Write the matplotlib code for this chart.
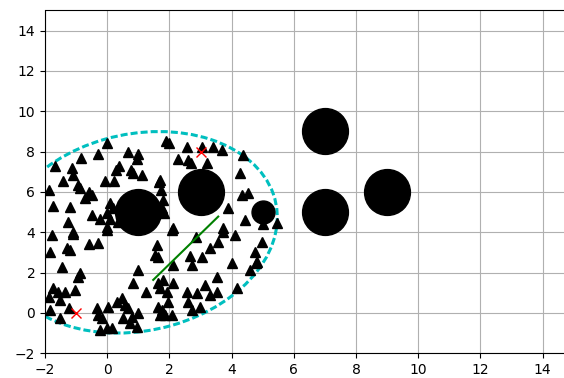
import matplotlib
matplotlib.use("Agg")
import matplotlib.pyplot as plt
from matplotlib.patches import Ellipse

# Sampled points (drawn as black triangles)
sample_x = [
    0.0, -0.3, -0.84, 0.66, 0.98, 0.95, -1.68, -1.12, -1.09, 0.37, 0.28, 0.76,
    0.82, 1.11, -1.41, -0.95, -0.06, 0.22, -0.87, 1.70, -1.86, -0.58, -0.71,
    -0.50, -1.73, -1.20, -0.50, -0.23, -1.25, 0.09, -0.02, -1.11,
    1.90, 2.00, 2.56, 2.29, 2.61, 2.68, 3.20, 3.41, 3.68, 4.38, 4.27, 4.32,
    4.54, 3.89, 4.43, 5.02, 5.45, 2.13, 3.73, 3.06,
    -1.78, -1.09, -0.02, -1.84, -1.30, -1.20, -0.58, -0.29, 1.59, 1.54, 1.64,
    -1.46, -0.87, -0.95, 1.00, 0.84, 1.25, 1.64, 1.70, -1.73, -1.57, -1.36,
    -1.04, -1.86, -1.52, -1.22, -1.84, -1.52, -0.34, -0.29, 0.04, 0.31, 0.47,
    0.57, 0.68, 0.52, 0.79, 1.00, -0.18, -0.23, -0.02, 0.14, 0.73, 0.95,
    1.64, 1.70,
    2.07, 2.86, 3.57, 3.73, 4.11, 3.31, 3.04, 2.66, 2.72, 2.11, 4.00, 4.97,
    4.75, 4.81, 4.59, 3.52, 1.80, 2.13, 3.14, 2.56, 2.88, 3.31, 3.52, 4.16,
    1.91, 1.96, 2.61, 2.98, 2.72, 1.75, 2.07, 1.86,
    0.10, 0.00, 1.78, 1.84, 1.67, 1.73, 0.20, 0.35, 1.75, 4.79,
]
sample_y = [
    8.45, 7.90, 7.68, 7.97, 7.88, 7.63, 7.30, 7.21, 6.85, 7.31, 7.10, 7.10,
    6.93, 6.85, 6.52, 6.35, 6.52, 6.52, 6.19, 6.60, 6.10, 6.02, 5.69,
    5.86, 5.31, 5.25, 4.86, 4.65, 4.53, 4.65, 4.28, 4.03,
    8.55, 8.45, 8.25, 7.63, 7.59, 7.43, 7.46, 8.25, 8.09, 7.84, 6.93, 5.86,
    5.97, 5.20, 4.62, 4.42, 4.45, 4.20, 4.20, 8.25,
    3.87, 3.92, 4.12, 3.04, 3.21, 3.13, 3.42, 3.46, 3.37, 2.88, 2.79,
    2.30, 1.97, 1.80, 2.13, 1.47, 1.06, 1.47, 1.23, 1.23, 1.06, 1.06,
    1.14, 0.81, 0.65, 0.23, 0.15, -0.26, 0.23, -0.10, 0.31, 0.56, 0.73,
    0.40, 0.23, -0.26, -0.18, -0.01, -0.26, -0.84, -0.76, -0.76, -0.51, -0.68,
    0.31, -0.10,
    4.12, 3.79, 3.54, 4.03, 3.87, 3.21, 2.79, 2.83, 2.38, 2.38, 2.47, 3.54,
    3.04, 2.55, 2.13, 1.80, 1.64, 1.47, 1.39, 1.06, 0.98, 0.89, 1.06, 1.23,
    1.06, 0.56, 0.56, 0.31, 0.15, 0.15, -0.10, -0.10,
    5.44, 4.94, 5.60, 4.94, 6.51, 6.10, 5.20, 4.50, 5.20, 2.46,
]

# Circular obstacles: centre x, centre y, relative size
obstacle_x = [5, 9, 7, 1, 3, 7]
obstacle_y = [5, 6, 5, 5, 6, 9]
obstacle_size = [0.5, 1.0, 1.0, 1.0, 1.0, 1.0]

# Start and goal
start = (-1, 0)
goal = (3, 8)

# Path segment
path_x = [1.48, 3.57]
path_y = [1.64, 4.78]

# Sampling ellipse
ellipse_center = (1.0, 4.0)
ellipse_major = 5.16
ellipse_minor = 4.28
ellipse_angle = 63.43

fig = plt.figure(figsize=(5.64, 3.78), dpi=100)
ax = fig.add_axes([45 / 564, 24.7 / 378, 528.7 / 564, 342.8 / 378])

ax.plot(sample_x, sample_y, "^k", ms=6.6)
for ox, oy, s in zip(obstacle_x, obstacle_y, obstacle_size):
    ax.plot(ox, oy, "ok", ms=33 * s)

ax.plot(path_x, path_y, "-g", lw=1.5)
ax.plot(start[0], start[1], "xr", ms=7)
ax.plot(goal[0], goal[1], "xr", ms=7)

ax.add_patch(Ellipse(ellipse_center, 2 * ellipse_major, 2 * ellipse_minor,
                     angle=ellipse_angle, fill=False, edgecolor="c",
                     linestyle=(0, (2.3, 1.0)), linewidth=2.2))

ax.set_xlim(-2, 15)
ax.set_ylim(-2, 15)
ax.set_xticks(range(-2, 15, 2))
ax.set_yticks(range(-2, 15, 2))
ax.grid(True)
ax.set_axisbelow(True)

fig.savefig("out.png", dpi=100)
